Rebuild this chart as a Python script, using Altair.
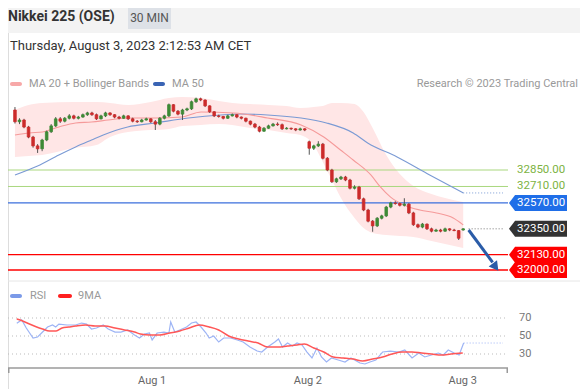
import altair as alt
import pandas as pd

# ---------------- data ----------------
open_ = [33360, 33260, 33275, 33215, 33130, 33055, 33030, 33105, 33175, 33225,
         33285, 33265, 33290, 33310, 33290, 33300, 33320, 33335, 33320, 33285,
         33310, 33335, 33320, 33300, 33290, 33310, 33285, 33265, 33260, 33275,
         33285, 33260, 33240, 33290, 33310, 33405, 33350, 33325, 33360, 33370,
         33430, 33455, 33445, 33395, 33345, 33310, 33305, 33290, 33310, 33320,
         33300, 33290, 33265, 33240, 33215, 33180, 33205, 33225, 33240, 33235,
         33200, 33205, 33200, 33190, 33200, 33090, 33035, 33055, 33070, 32950,
         32850, 32750, 32775, 32790, 32765, 32695, 32705, 32605, 32510, 32415,
         32375, 32440, 32460, 32535, 32570, 32565, 32550, 32560, 32485, 32385,
         32365, 32390, 32350, 32330, 32340, 32330, 32350, 32340, 32335, 32340]
high = [33385, 33290, 33285, 33225, 33140, 33070, 33115, 33185, 33240, 33300,
        33300, 33300, 33325, 33320, 33310, 33330, 33345, 33345, 33330, 33320,
        33345, 33340, 33325, 33310, 33320, 33315, 33295, 33275, 33285, 33295,
        33290, 33275, 33300, 33320, 33415, 33410, 33360, 33370, 33380, 33440,
        33465, 33465, 33450, 33400, 33350, 33320, 33310, 33320, 33330, 33325,
        33305, 33295, 33270, 33250, 33225, 33215, 33235, 33250, 33255, 33245,
        33215, 33210, 33205, 33210, 33205, 33100, 33065, 33095, 33080, 32960,
        32860, 32785, 32800, 32800, 32775, 32720, 32715, 32615, 32520, 32425,
        32450, 32470, 32545, 32580, 32585, 32575, 32610, 32570, 32495, 32395,
        32400, 32395, 32360, 32350, 32350, 32360, 32355, 32350, 32340, 32355]
low = [33245, 33240, 33205, 33120, 33040, 32995, 33010, 33095, 33165, 33215,
       33250, 33255, 33280, 33280, 33280, 33295, 33310, 33310, 33275, 33280,
       33300, 33310, 33290, 33280, 33285, 33275, 33255, 33250, 33255, 33270,
       33250, 33190, 33230, 33280, 33300, 33340, 33315, 33275, 33350, 33360,
       33420, 33435, 33385, 33335, 33300, 33295, 33280, 33285, 33305, 33290,
       33280, 33255, 33230, 33205, 33170, 33175, 33200, 33220, 33225, 33190,
       33195, 33190, 33180, 33185, 33180, 32980, 33020, 33045, 32940, 32840,
       32740, 32740, 32765, 32755, 32685, 32685, 32595, 32500, 32405, 32325,
       32365, 32430, 32450, 32525, 32555, 32540, 32540, 32475, 32375, 32355,
       32355, 32340, 32320, 32325, 32320, 32325, 32330, 32330, 32255, 32335]
close = [33260, 33275, 33215, 33130, 33055, 33030, 33105, 33175, 33225, 33285,
         33265, 33290, 33310, 33290, 33300, 33320, 33335, 33320, 33285, 33310,
         33335, 33320, 33300, 33290, 33310, 33285, 33265, 33260, 33275, 33285,
         33260, 33240, 33290, 33310, 33405, 33350, 33325, 33360, 33370, 33430,
         33455, 33445, 33395, 33345, 33310, 33305, 33290, 33310, 33320, 33300,
         33290, 33265, 33240, 33215, 33180, 33205, 33225, 33240, 33235, 33200,
         33205, 33200, 33190, 33200, 33190, 33035, 33055, 33070, 32950, 32850,
         32750, 32775, 32790, 32765, 32695, 32705, 32605, 32510, 32415, 32375,
         32440, 32460, 32535, 32570, 32565, 32550, 32560, 32485, 32385, 32365,
         32390, 32350, 32330, 32340, 32330, 32350, 32340, 32335, 32270, 32350]

ma20_x = [0, 3.2, 6.1, 9.7, 13.4, 16.9, 20.6, 24.9, 31, 36.8, 41.1, 48.3, 55.8,
          63.2, 68.2, 71.9, 74.7, 78.6, 80.7, 82.9, 85.9, 89.4, 93.1, 96.8, 99]
ma20_v = [33148, 33165, 33173, 33216, 33250, 33258, 33275, 33292, 33292, 33301,
          33343, 33335, 33292, 33233, 33131, 33020, 32935, 32808, 32706, 32621,
          32553, 32510, 32485, 32442, 32383]

ma50_x = [0, 5, 9.7, 13.4, 16.9, 19.5, 24.9, 31, 38.3, 45.5, 49.8, 55.8, 63.2,
          68.8, 74.7, 77.9, 84.4, 91.6, 99]
ma50_v = [32808, 32884, 32978, 33046, 33105, 33148, 33216, 33250, 33292, 33318,
          33326, 33318, 33292, 33250, 33165, 33080, 32961, 32808, 32655]

band_x = [0, 3, 6, 13, 18, 21, 25, 30, 34, 37, 41, 45, 48, 52, 56, 60, 63, 66,
          68, 70, 72, 75, 77, 79, 82, 85, 88, 92, 95, 99]
band_up = [33360, 33403, 33420, 33428, 33428, 33420, 33403, 33428, 33462, 33471,
           33462, 33437, 33420, 33411, 33403, 33394, 33377, 33386, 33394, 33420,
           33420, 33411, 33343, 33207, 32978, 32816, 32714, 32646, 32612, 32578]
band_lo = [32961, 32969, 32978, 33037, 33063, 33131, 33173, 33190, 33199, 33224,
           33233, 33241, 33233, 33207, 33190, 33165, 33148, 33063, 32918, 32765,
           32612, 32442, 32357, 32315, 32298, 32289, 32281, 32247, 32221, 32187]

rsi_x = [0.4, 1.5, 2.5, 4.0, 5.0, 6.1, 7.2, 8.3, 9.0, 9.7, 11.5, 13.4, 14.7, 15.8,
         16.9, 18.0, 19.5, 20.6, 22.1, 23.4, 24.9, 26.4, 27.5, 28.6, 29.7, 30.3,
         31.4, 32.9, 34.0, 34.4, 35.3, 36.4, 37.9, 39.0, 40.0, 41.1, 42.2, 42.9,
         43.9, 45.0, 46.1, 47.6, 49.1, 50.4, 51.9, 53.5, 54.5, 55.8, 57.4, 58.2,
         59.1, 60.2, 61.3, 62.3, 63.4, 64.5, 65.6, 66.7, 67.7, 68.8, 69.9, 71.4,
         72.9, 74.2, 76.2, 77.3, 78.4, 79.7, 81.2, 82.9, 84.8, 86.1, 87.7, 89.2,
         90.5, 92.0, 93.5, 94.6, 95.7, 97.0, 98.1, 99.1]
rsi_v = [64.1, 67.8, 58.9, 47.8, 48.9, 54.4, 60, 62.2, 60, 63.3, 62.2, 62.2, 64.4,
         63.3, 57.8, 58.9, 62.2, 57.8, 54.4, 54.4, 56.7, 51.1, 47.8, 52.2, 53.3,
         45.6, 53.3, 54.4, 53.3, 65.6, 54.4, 56.7, 60, 64.4, 65.6, 60, 53.3, 47.8,
         50, 43.3, 47.8, 47.8, 45.6, 43.3, 37.8, 33.3, 32.2, 37.8, 43.3, 46.7,
         37.8, 42.2, 38.9, 42.2, 40, 32.2, 25.6, 36.7, 26.7, 21.1, 25.6, 23.3,
         21.1, 25.6, 20, 18.9, 21.1, 23.3, 32.2, 33.3, 32.2, 34.4, 25.6, 31.1,
         26.7, 28.9, 31.1, 28.9, 34.4, 31.1, 28.9, 42.2]

ma9_x = [0.4, 1.7, 3.2, 4.8, 6.1, 7.6, 9.1, 10.4, 11.9, 13.4, 15.6, 17.7, 19.9,
         22.1, 24.2, 26.4, 27.7, 29.9, 32.0, 34.2, 36.4, 38.5, 40.7, 42.9, 45.0,
         47.2, 49.4, 51.5, 53.7, 55.8, 58.0, 60.2, 62.3, 63.9, 66.0, 68.2, 70.3,
         72.5, 74.7, 76.8, 79.0, 81.2, 83.3, 85.5, 87.7, 89.8, 92.0, 94.2, 96.3, 98.9]
ma9_v = [68.9, 66.7, 63.3, 60, 57.8, 55.6, 55.6, 58.9, 60, 61.1, 62.2, 61.1, 61.1,
         58.9, 56.7, 54.4, 52.2, 51.1, 51.1, 53.3, 55.6, 58.9, 62.2, 60, 56.7, 50,
         46.7, 44.4, 42.2, 37.8, 37.8, 38.9, 40, 41.1, 36.7, 32.2, 26.7, 25.6,
         24.4, 22.2, 24.4, 26.7, 30, 32.2, 32.2, 31.1, 30, 28.9, 30, 31.1]

levels = [32850, 32710, 32570, 32350, 32130, 32000]
level_labels = ["32850.00", "32710.00", "32570.00", "32350.00", "32130.00", "32000.00"]
level_kind = ["green", "green", "blue", "last", "red", "red"]

rsi_grid = [70, 50, 30]
date_ticks_x = [30.3, 64.7, 98.9]
date_ticks = ["Aug 1", "Aug 2", "Aug 3"]

arrow_x = [100.2, 105.5]
arrow_p = [32340, 32065]

# ---------------- styling ----------------
FONT = "Roboto"
W, H = 572, 381
X_LO, X_HI = -0.433, 107.79
xs = alt.Scale(domain=[X_LO, X_HI], range=[0, 500], nice=False, zero=False)
ys = alt.Scale(domain=[32000, 33500], range=[262, 85.53], nice=False, zero=False)
rs = alt.Scale(domain=[0, 100], range=[373, 283], nice=False, zero=False)

line_col = {"green": "#a9d77f", "blue": "#3b6fdc", "red": "#ff0000"}
tag_col = {"blue": "#1f6ee8", "last": "#333333", "red": "#ff0000"}

one = pd.DataFrame({"a": [0]})


def X(f):
    return alt.X(f, type="quantitative", scale=xs, axis=None)


def Y(f):
    return alt.Y(f, type="quantitative", scale=ys, axis=None)


def R(f):
    return alt.Y(f, type="quantitative", scale=rs, axis=None)


def txt(s, x, y, size=11, color="#999", align="left", weight="normal"):
    return alt.Chart(one).mark_text(
        text=s, align=align, baseline="middle", font=FONT, fontSize=size,
        color=color, fontWeight=weight
    ).encode(x=alt.value(x), y=alt.value(y))


def box(x1, x2, y1, y2, color, r=0):
    return alt.Chart(one).mark_rect(color=color, cornerRadius=r).encode(
        x=alt.value(x1), x2=alt.value(x2), y=alt.value(y1), y2=alt.value(y2))


# ---------------- header ----------------
header = [
    box(0, W, 0, 25, "#f3f3f3"),
    box(120, 163, 0, 21, "#dde1e7"),
    txt("Nikkei 225 (OSE)", 0, 9, size=14, color="#333", weight="bold"),
    txt("30 MIN", 141.5, 10, size=12, color="#555", align="center"),
    txt("Thursday, August 3, 2023 2:12:53 AM CET", 2, 38, size=13, color="#333"),
    box(2, 14, 74, 78, "#f7a8a8", 2),
    txt("MA 20 + Bollinger Bands", 21, 76),
    box(145, 157, 74, 78, "#3a64b4", 2),
    txt("MA 50", 164, 76),
    txt("Research \u00a9 2023 Trading Central", 570, 76, align="right"),
    alt.Chart(one).mark_rule(color="#e6e6e6", strokeWidth=1).encode(
        x=alt.value(0), x2=alt.value(W), y=alt.value(273)),
]

# ---------------- price panel ----------------
cdf = pd.DataFrame({"i": list(range(len(close))), "o": open_, "h": high,
                    "l": low, "c": close})
cdf["dir"] = ["up" if c >= o else "down" for o, c in zip(open_, close)]
band = pd.DataFrame({"x": band_x, "u": band_up, "d": band_lo})
ma20 = pd.DataFrame({"x": ma20_x, "v": ma20_v})
ma50 = pd.DataFrame({"x": ma50_x, "v": ma50_v})
lv = pd.DataFrame({"p": levels, "label": level_labels, "kind": level_kind})
lv["lcol"] = [line_col.get(k, "#000") for k in level_kind]
lv["tcol"] = ["#7cb342" if k == "green" else "#ffffff" for k in level_kind]
solid = lv[lv["kind"] != "last"]
tags = lv[lv["kind"] != "green"].copy()
tags["fcol"] = [tag_col[k] for k in tags["kind"]]
dots = pd.DataFrame({"x1": [arrow_x[0], ma50_x[-1]], "x2": [X_HI, X_HI],
                     "p": [close[-1], ma50_v[-1]], "col": ["#777", "#7a9ad4"]})
arrow = pd.DataFrame({"x": arrow_x, "p": arrow_p})
arrow_head = pd.DataFrame({"x": [arrow_x[1] + 0.45], "p": [arrow_p[1] - 30]})

candle_scale = alt.Scale(domain=["up", "down"], range=["#3e8a36", "#cc2b2b"])
TAG = "M -1 0 L -0.79 -0.276 L 1 -0.276 L 1 0.276 L -0.79 0.276 Z"

price = alt.layer(
    alt.Chart(band).mark_area(color="#ffe6e6", opacity=1, interpolate="monotone").encode(
        x=X("x"), y=Y("u"), y2="d"),
    alt.Chart(solid).mark_rule().encode(
        y=Y("p"), x=alt.value(0), x2=alt.value(500),
        color=alt.Color("lcol:N", scale=None),
        strokeWidth=alt.StrokeWidth("kind:N", scale=alt.Scale(
            domain=["green", "blue", "red"], range=[1, 1.3, 2]), legend=None)),
    alt.Chart(ma50).mark_line(color="#7a9ad4", strokeWidth=1.1, interpolate="monotone").encode(
        x=X("x"), y=Y("v")),
    alt.Chart(ma20).mark_line(color="#f59a9a", strokeWidth=1.1, interpolate="monotone").encode(
        x=X("x"), y=Y("v")),
    alt.Chart(dots).mark_rule(strokeDash=[1, 2], strokeWidth=1).encode(
        x=X("x1"), x2="x2", y=Y("p"), color=alt.Color("col:N", scale=None)),
    alt.Chart(cdf).mark_rule(color="#555", strokeWidth=1).encode(
        x=X("i"), y=Y("l"), y2="h"),
    alt.Chart(cdf).mark_bar(width=2.6, strokeWidth=0.8).encode(
        x=X("i"), y=Y("o"), y2="c",
        fill=alt.Fill("dir:N", scale=candle_scale, legend=None),
        stroke=alt.Stroke("dir:N", scale=candle_scale, legend=None)),
    alt.Chart(arrow).mark_line(color="#2b5ca8", strokeWidth=3).encode(
        x=X("x"), y=Y("p")),
    alt.Chart(arrow_head).mark_point(shape="triangle", size=110, angle=143,
                                     filled=True, opacity=1, color="#2b5ca8").encode(
        x=X("x"), y=Y("p")),
    alt.Chart(tags).mark_point(shape=TAG, size=3364, filled=True, opacity=1,
                               strokeWidth=0).encode(
        x=alt.value(530), y=Y("p"), fill=alt.Fill("fcol:N", scale=None)),
    alt.Chart(lv).mark_text(align="left", baseline="middle", font=FONT,
                            fontSize=11.5).encode(
        x=alt.value(509), y=Y("p"), text="label:N",
        color=alt.Color("tcol:N", scale=None)),
)

# ---------------- RSI panel ----------------
rsi = pd.DataFrame({"x": rsi_x, "v": rsi_v})
ma9 = pd.DataFrame({"x": ma9_x, "v": ma9_v})
grid = pd.DataFrame({"v": rsi_grid, "t": [str(g) for g in rsi_grid]})
rdot = pd.DataFrame({"x1": [rsi_x[-1]], "x2": [X_HI], "v": [rsi_v[-1]]})
dt = pd.DataFrame({"x": date_ticks_x, "t": date_ticks})

rsi_panel = alt.layer(
    alt.Chart(grid).mark_rule(color="#bbbbbb", strokeDash=[1, 3], strokeWidth=1).encode(
        y=R("v"), x=alt.value(0), x2=alt.value(500)),
    alt.Chart(grid).mark_text(align="left", baseline="middle", font=FONT,
                              fontSize=11, color="#777").encode(
        y=R("v"), x=alt.value(511), text="t:N"),
    alt.Chart(rdot).mark_rule(color="#9db4f5", strokeDash=[1, 2], strokeWidth=1).encode(
        x=X("x1"), x2="x2", y=R("v")),
    alt.Chart(rsi).mark_line(color="#9db4f5", strokeWidth=1.2).encode(
        x=X("x"), y=R("v")),
    alt.Chart(ma9).mark_line(color="#ff5757", strokeWidth=1.5, interpolate="monotone").encode(
        x=X("x"), y=R("v")),
    alt.Chart(dt).mark_text(baseline="middle", font=FONT, fontSize=11,
                            color="#666").encode(
        x=X("x"), y=alt.value(373), text="t:N"),
)

rsi_extra = [
    box(2, 14, 286, 290, "#7b9ae8", 2),
    txt("RSI", 22, 288),
    box(50, 64, 286, 290, "#ff2020", 2),
    txt("9MA", 70, 288),
    alt.Chart(one).mark_rule(color="#9a9a9a", strokeWidth=1.5).encode(
        x=alt.value(0), x2=alt.value(500), y=alt.value(360)),
    alt.Chart(one).mark_rule(color="#9a9a9a", strokeWidth=1.5).encode(
        x=alt.value(0.75), y=alt.value(360), y2=alt.value(365)),
    alt.Chart(one).mark_rule(color="#9a9a9a", strokeWidth=1.5).encode(
        x=alt.value(499.25), y=alt.value(360), y2=alt.value(365)),
]

chart = alt.layer(*header, price, rsi_panel, *rsi_extra).resolve_scale(
    y="independent"
).properties(
    width=W, height=H, autosize=alt.AutoSizeParams(type="none"), padding=0
).configure_view(stroke=None).configure(background="white")

chart.save("out.html", embed_options={"renderer": "svg", "actions": False})
